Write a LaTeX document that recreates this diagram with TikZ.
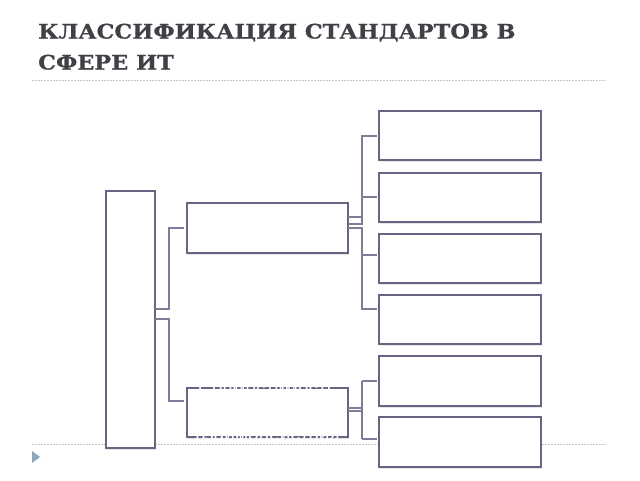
\documentclass[tikz,border=0pt]{standalone}
\usepackage{fontspec}
\setmainfont{DejaVu Serif}
\newfontfamily\titlefont[FakeStretch=1.12, BoldFeatures={FakeStretch=1.12, FakeBold=0.6}]{DejaVu Serif}
\newfontfamily\sansf{Liberation Sans}
\usetikzlibrary{shadows}
\definecolor{titlec}{HTML}{404046}
\definecolor{boxc}{HTML}{666684}
\definecolor{linec}{HTML}{7C7C96}
\definecolor{dotc}{HTML}{C4C4C4}
\definecolor{tric}{HTML}{8FA7B8}
\tikzset{
  boxstyle/.style={draw=boxc, line width=2pt, fill=white,
    drop shadow={opacity=0.2, shadow xshift=1pt, shadow yshift=-1.5pt}},
  conn/.style={draw=linec, line width=1.5pt},
  sepline/.style={draw=dotc, line width=1pt, dash pattern=on 1.5pt off 1.5pt},
  titlestyle/.style={anchor=base west, inner sep=0pt, text=titlec,
    font=\titlefont\fontsize{20}{24}\selectfont\bfseries},
  hidden/.style={text=white, font=\sansf\fontsize{19}{23}\selectfont, inner sep=0pt}
}
\begin{document}
\begin{tikzpicture}[x=1pt,y=-1pt]
\useasboundingbox (0,0) rectangle (640,480);
\fill[white] (0,0) rectangle (640,480);
% title
\node[titlestyle] (t1) at (38,38.5) {КЛАССИФИКАЦИЯ СТАНДАРТОВ В};
\node[titlestyle] (t2) at (38,69.5) {СФЕРЕ ИТ};
% separators
\coordinate (s1a) at (32,80); \coordinate (s1b) at (606,80);
\coordinate (s2a) at (32,444.5); \coordinate (s2b) at (606,444.5);
\draw[sepline] (s1a) -- (s1b);
\draw[sepline] (s2a) -- (s2b);
% bullet triangle
\fill[tric] (32,451) -- (40,457) -- (32,463) -- cycle;
% boxes
\path[boxstyle] (106,191) rectangle (155,448);
\node[minimum width=49pt, minimum height=257pt, inner sep=0pt] (L) at (130.5,319.5) {};
\path[boxstyle] (187,203) rectangle (348,253);
\node[minimum width=161pt, minimum height=50pt, inner sep=0pt] (M1) at (267.5,228) {};
\path[boxstyle] (187,388) rectangle (348,437);
\node[minimum width=161pt, minimum height=49pt, inner sep=0pt] (M2) at (267.5,412.5) {};
\foreach \n/\a/\b in {R1/111/160, R2/173/222, R3/234/283, R4/295/344, R5/356/406, R6/417/467}{
  \path[boxstyle] (379,\a) rectangle (541,\b);
  \node[minimum width=162pt, minimum height=\b-\a, inner sep=0pt] (\n) at (460,{(\a+\b)/2}) {};
}
% white text in lower middle box
\node[hidden] (h1) at ([yshift=-1pt]M2.north) {Совместимость};
\node[hidden] (h2) at (M2.center) {и средства};
\node[hidden] (h3) at ([yshift=1.5pt]M2.south) {взаимодействия};
% connectors left -> middle
\draw[conn] (L.east |- 0,309) -- (169,309) -- (169,228) -- ([xshift=-3pt]M1.west |- 0,228);
\draw[conn] (L.east |- 0,319) -- (169,319) -- (169,401) -- ([xshift=-3pt]M2.west |- 0,401);
% middle 1 -> R1..R4
\draw[conn] (M1.east |- 0,217) -- (362,217);
\draw[conn] (M1.east |- 0,224) -- (362,224) -- (362,136) -- ([xshift=-2pt]R1.west |- 0,136);
\draw[conn] (362,197) -- ([xshift=-2pt]R2.west |- 0,197);
\draw[conn] (M1.east |- 0,228) -- (362,228) -- (362,309) -- ([xshift=-2pt]R4.west |- 0,309);
\draw[conn] (362,255) -- ([xshift=-2pt]R3.west |- 0,255);
% middle 2 -> R5, R6
\draw[conn] (M2.east |- 0,408) -- (362,408);
\draw[conn] (M2.east |- 0,411) -- (362,411);
\draw[conn] (362,381) -- (362,439);
\draw[conn] (362,381) -- ([xshift=-2pt]R5.west |- 0,381);
\draw[conn] (362,439) -- ([xshift=-2pt]R6.west |- 0,439);
\end{tikzpicture}
\end{document}
